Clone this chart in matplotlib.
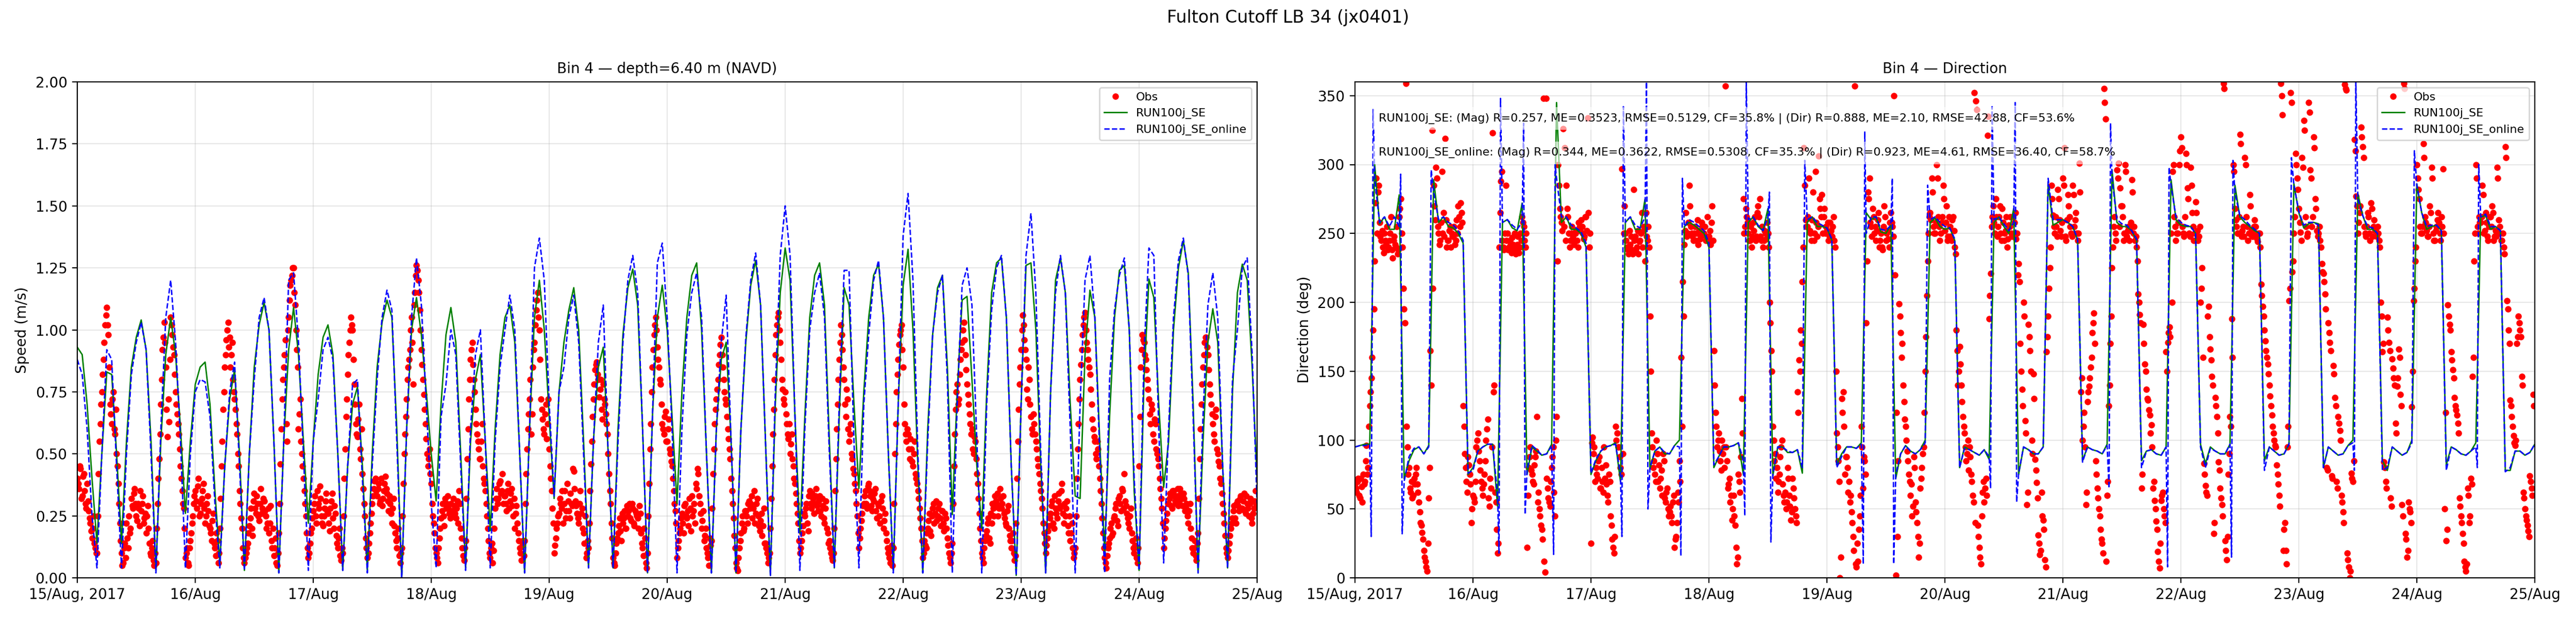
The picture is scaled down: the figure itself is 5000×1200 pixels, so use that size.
import numpy as np
import matplotlib.pyplot as plt

start = np.datetime64('2017-08-15T00:00')
end = np.datetime64('2017-08-25T00:00')

# hourly model speed (m/s), 15 Aug 00:00 .. 25 Aug 00:00
run_speed = [
    0.93, 0.90, 0.70, 0.40, 0.14, 0.50, 0.83, 0.82, 0.50, 0.14,
    0.55, 0.85, 0.97, 1.04, 0.92, 0.55, 0.03, 0.55, 0.90, 1.05,
    0.90, 0.60, 0.26, 0.55, 0.78, 0.85, 0.87, 0.70, 0.35, 0.06,
    0.45, 0.72, 0.84, 0.50, 0.03, 0.50, 0.85, 1.02, 1.11, 1.00,
    0.55, 0.02, 0.55, 0.92, 1.09, 0.90, 0.55, 0.22, 0.55, 0.82,
    0.97, 1.02, 0.90, 0.50, 0.03, 0.45, 0.70, 0.77, 0.45, 0.03,
    0.50, 0.85, 1.03, 1.12, 1.05, 0.60, 0.00, 0.60, 1.00, 1.13,
    0.98, 0.75, 0.50, 0.31, 0.70, 0.98, 1.09, 0.95, 0.50, 0.04,
    0.55, 0.80, 0.90, 0.55, 0.19, 0.60, 0.90, 1.05, 1.10, 0.95,
    0.50, 0.02, 0.60, 1.05, 1.20, 1.00, 0.65, 0.32, 0.75, 0.95,
    1.08, 1.17, 1.00, 0.55, 0.04, 0.55, 0.85, 0.93, 0.50, 0.04,
    0.60, 0.98, 1.17, 1.245, 1.10, 0.60, 0.02, 0.65, 1.05, 1.18,
    1.00, 0.65, 0.30, 0.75, 1.05, 1.22, 1.27, 1.00, 0.50, 0.02,
    0.60, 0.88, 0.95, 0.55, 0.02, 0.60, 0.95, 1.18, 1.28, 1.10,
    0.55, 0.01, 0.70, 1.15, 1.33, 1.20, 0.65, 0.18, 0.65, 1.05,
    1.22, 1.27, 1.10, 0.55, 0.04, 0.65, 1.17, 1.10, 0.70, 0.36,
    0.75, 1.05, 1.22, 1.265, 1.05, 0.50, 0.03, 0.70, 1.18, 1.325,
    1.00, 0.45, 0.02, 0.60, 0.98, 1.17, 1.22, 0.85, 0.255, 0.75,
    1.12, 1.135, 0.80, 0.45, 0.20, 0.75, 1.15, 1.27, 1.29, 1.05,
    0.45, 0.01, 0.70, 1.26, 1.27, 1.00, 0.45, 0.02, 0.75, 1.20,
    1.29, 1.15, 0.70, 0.33, 0.32, 0.90, 1.16, 1.05, 0.55, 0.10,
    0.65, 1.05, 1.24, 1.26, 1.00, 0.35, 0.03, 0.80, 1.205, 1.13,
    0.70, 0.365, 0.55, 1.00, 1.25, 1.36, 1.23, 0.70, 0.02, 0.55,
    0.95, 1.085, 0.95, 0.45, 0.04, 0.75, 1.15, 1.265, 1.20, 0.85, 0.40,
]
online_speed = [
    0.88, 0.82, 0.60, 0.25, 0.04, 0.50, 0.92, 0.88, 0.45, 0.04,
    0.50, 0.82, 0.95, 1.03, 0.92, 0.50, 0.02, 0.60, 1.05, 1.20,
    0.95, 0.55, 0.04, 0.50, 0.75, 0.80, 0.79, 0.65, 0.30, 0.04,
    0.45, 0.75, 0.87, 0.45, 0.03, 0.50, 0.80, 1.05, 1.13, 1.00,
    0.55, 0.02, 0.55, 1.20, 1.23, 0.95, 0.50, 0.03, 0.55, 0.72,
    0.92, 0.97, 0.88, 0.50, 0.03, 0.45, 0.78, 0.80, 0.40, 0.02,
    0.45, 0.80, 1.05, 1.16, 1.08, 0.55, 0.00, 0.60, 1.05, 1.29,
    1.10, 0.70, 0.30, 0.04, 0.65, 0.78, 1.00, 0.90, 0.45, 0.03,
    0.60, 0.90, 1.00, 0.55, 0.04, 0.55, 0.85, 1.00, 1.14, 1.00,
    0.50, 0.02, 0.60, 1.25, 1.37, 1.20, 0.70, 0.33, 0.75, 0.85,
    1.05, 1.14, 0.95, 0.50, 0.04, 0.55, 0.95, 1.10, 0.50, 0.04,
    0.55, 0.95, 1.20, 1.30, 1.15, 0.60, 0.02, 0.65, 1.27, 1.35,
    1.05, 0.60, 0.02, 0.60, 0.98, 1.15, 1.23, 1.05, 0.50, 0.02,
    0.60, 0.95, 1.14, 0.55, 0.02, 0.60, 0.97, 1.20, 1.31, 1.10,
    0.55, 0.01, 0.75, 1.30, 1.50, 1.30, 0.65, 0.03, 0.60, 1.00,
    1.15, 1.23, 1.05, 0.50, 0.04, 0.70, 1.24, 1.24, 0.55, 0.04,
    0.70, 0.98, 1.20, 1.28, 1.05, 0.50, 0.02, 0.70, 1.38, 1.55,
    1.20, 0.50, 0.02, 0.55, 0.98, 1.15, 1.22, 0.80, 0.02, 0.70,
    1.18, 1.25, 1.10, 0.55, 0.02, 0.70, 1.08, 1.25, 1.30, 1.05,
    0.45, 0.01, 0.70, 1.30, 1.47, 1.15, 0.50, 0.02, 0.75, 1.15,
    1.30, 1.15, 0.60, 0.02, 0.70, 1.20, 1.30, 1.05, 0.50, 0.02,
    0.80, 1.08, 1.22, 1.29, 1.00, 0.40, 0.03, 0.90, 1.33, 1.30,
    0.60, 0.06, 0.60, 1.05, 1.28, 1.37, 1.22, 0.65, 0.02, 0.65,
    1.10, 1.23, 1.05, 0.45, 0.04, 0.80, 1.00, 1.25, 1.29, 0.90, 0.30,
]

# hourly model direction (deg)
run_dir = [
    95, 96, 97, 97, 300, 257, 262, 253, 253, 278,
    72, 85, 93, 95, 90, 96, 289, 258, 262, 255,
    254, 250, 243, 75, 80, 92, 95, 97, 97, 52,
    258, 260, 254, 252, 272, 75, 95, 92, 89, 90,
    97, 345, 258, 262, 253, 253, 250, 240, 75, 85,
    92, 95, 96, 98, 70, 258, 262, 253, 253, 275,
    79, 92, 95, 90, 90, 96, 100, 255, 258, 256,
    253, 250, 240, 80, 88, 95, 95, 96, 98, 75,
    258, 262, 255, 252, 268, 74, 95, 95, 91, 91,
    93, 76, 258, 262, 255, 255, 254, 245, 82, 90,
    95, 95, 94, 98, 265, 260, 262, 251, 250, 256,
    72, 90, 96, 92, 90, 93, 100, 258, 261, 255,
    253, 254, 245, 80, 95, 93, 91, 89, 93, 86,
    258, 262, 255, 250, 268, 75, 95, 93, 90, 90,
    95, 286, 256, 258, 260, 258, 255, 245, 85, 95,
    93, 92, 90, 97, 296, 258, 255, 255, 252, 245,
    85, 92, 93, 90, 89, 95, 289, 260, 256, 255,
    255, 250, 97, 83, 95, 92, 90, 90, 97, 285,
    262, 258, 255, 252, 250, 85, 95, 92, 89, 90,
    97, 286, 265, 254, 257, 258, 257, 80, 95, 92,
    89, 90, 96, 100, 279, 263, 253, 253, 250, 85,
    78, 95, 92, 89, 91, 100, 286, 265, 253, 255,
    256, 252, 82, 95, 93, 90, 89, 92, 98, 262,
    263, 253, 255, 252, 78, 78, 92, 92, 89, 91, 97,
]
online_dir = [
    95, 96, 96, 97, 290, 258, 262, 255, 262, 255,
    70, 88, 94, 95, 90, 95, 280, 260, 262, 258,
    256, 252, 245, 76, 78, 92, 95, 97, 97, 60,
    258, 260, 256, 253, 258, 78, 96, 93, 89, 90,
    96, 290, 262, 262, 256, 254, 251, 243, 76, 86,
    92, 95, 96, 97, 75, 258, 262, 256, 254, 262,
    80, 92, 95, 91, 90, 96, 95, 255, 260, 258,
    255, 252, 243, 82, 88, 95, 95, 96, 98, 85,
    260, 262, 256, 252, 262, 75, 95, 95, 92, 91,
    93, 80, 260, 262, 258, 256, 254, 246, 80, 88,
    95, 95, 94, 97, 250, 262, 262, 253, 252, 256,
    75, 90, 96, 92, 90, 93, 98, 260, 262, 258,
    255, 254, 246, 80, 94, 93, 91, 89, 93, 88,
    260, 262, 257, 252, 258, 76, 95, 93, 90, 90,
    95, 290, 260, 260, 260, 258, 255, 246, 84, 95,
    93, 92, 90, 96, 290, 260, 257, 256, 252, 246,
    80, 92, 93, 90, 89, 95, 285, 262, 258, 256,
    255, 250, 95, 80, 94, 92, 90, 90, 97, 280,
    263, 260, 256, 253, 250, 78, 95, 92, 89, 90,
    97, 285, 266, 256, 258, 258, 256, 80, 95, 92,
    89, 90, 96, 98, 275, 263, 255, 254, 250, 78,
    80, 95, 92, 89, 91, 98, 285, 265, 255, 256,
    256, 252, 78, 95, 93, 90, 89, 92, 95, 262,
    264, 255, 255, 252, 77, 80, 92, 92, 89, 91, 97,
]
# short spikes of the online run at the flood/ebb switches (hours since start)
online_spike_hr = [3.3, 3.7, 9.3, 9.6, 15.5, 29.3, 29.6, 34.3, 34.6, 40.4, 40.7,
                   54.3, 54.6, 59.3, 59.6, 66.3, 66.6, 79.3, 79.6, 84.3, 84.6,
                   91.5, 103.4, 103.7, 109.3, 109.6, 116.5, 129.3, 129.6, 134.3,
                   134.6, 153.4, 153.7, 165.3, 165.6, 178.3, 178.6, 190.5, 203.3,
                   203.6, 215.5, 228.3, 228.6]
online_spike_dir = [30, 340, 293, 32, 296, 18, 348, 330, 46, 17, 300,
                    30, 342, 360, 50, 16, 290, 45, 360, 280, 26,
                    303, 10, 324, 290, 10, 285, 65, 342, 345,
                    55, 65, 330, 8, 298, 15, 303, 305, 78,
                    360, 310, 80, 300]

# observations: samples on the 20-min marks ...
obs_speed = [
    0.40, 0.36, 0.44, 0.33, 0.42, 0.30, 0.38, 0.27, 0.22, 0.16, 0.25, 0.12,
    0.10, 0.42, 0.62, 0.75, 0.88, 1.02, 1.09, 0.98, 0.70, 0.62, 0.75, 0.58, 0.50, 0.38, 0.22,
    0.10, 0.06, 0.14, 0.22, 0.12, 0.18, 0.32, 0.28, 0.36, 0.25, 0.30, 0.21, 0.27, 0.33, 0.24,
    0.18, 0.29, 0.14, 0.09, 0.15, 0.05,
    0.06, 0.30, 0.48, 0.70, 0.92, 1.03, 0.85, 0.57, 0.63, 1.05, 0.98, 0.90, 0.75, 0.66, 0.58,
    0.45, 0.35, 0.28,
    0.08, 0.12, 0.05, 0.15, 0.22, 0.30, 0.35, 0.28, 0.40, 0.26, 0.32, 0.38, 0.22, 0.30, 0.27,
    0.20, 0.15, 0.26, 0.12, 0.18, 0.06,
    0.20, 0.45, 0.68, 0.85, 0.96, 1.03, 0.97, 0.90, 0.80, 0.72, 0.62, 0.50, 0.35, 0.24, 0.12,
    0.06, 0.10, 0.14, 0.21, 0.28, 0.17, 0.34, 0.26, 0.30, 0.23, 0.36, 0.28, 0.31, 0.25, 0.22,
    0.18, 0.29, 0.12, 0.09, 0.16, 0.05,
    0.18, 0.46, 0.72, 0.85, 0.96, 0.55, 1.05, 1.18, 1.22, 1.25, 1.10, 0.92, 0.60, 0.72, 0.50,
    0.40, 0.30, 0.18,
    0.08, 0.14, 0.20, 0.27, 0.33, 0.22, 0.30, 0.37, 0.25, 0.21, 0.28, 0.34, 0.26, 0.19, 0.31,
    0.24, 0.29, 0.17, 0.12, 0.20, 0.07,
    0.10, 0.40, 0.65, 0.82, 0.95, 1.05, 1.00, 0.78, 0.62, 0.57, 0.70, 0.48, 0.42, 0.30, 0.16,
    0.08, 0.14, 0.22, 0.30, 0.36, 0.40, 0.33, 0.38, 0.31, 0.29, 0.35, 0.41, 0.34, 0.27, 0.30,
    0.22, 0.32, 0.18, 0.12, 0.20, 0.06,
    0.12, 0.38, 0.58, 0.72, 0.85, 0.92, 1.05, 0.78, 1.15, 1.26, 1.20, 1.08, 0.92, 0.80, 0.68,
    0.56, 0.45, 0.52, 0.38, 0.25, 0.18,
    0.10, 0.06, 0.16, 0.24, 0.30, 0.21, 0.28, 0.33, 0.26, 0.30, 0.25, 0.29, 0.24, 0.31, 0.35,
    0.20, 0.12, 0.07,
    0.15, 0.48, 0.72, 0.88, 0.95, 0.80, 0.68, 0.58, 0.52, 0.48, 0.62, 0.40, 0.35, 0.25, 0.15,
    0.08, 0.14, 0.11, 0.28, 0.36, 0.32, 0.39, 0.35, 0.30, 0.33, 0.27, 0.38, 0.31, 0.36, 0.25,
    0.20, 0.29, 0.18, 0.12, 0.07, 0.15,
    0.15, 0.42, 0.60, 0.72, 0.58, 0.85, 0.95, 1.08, 1.15, 1.00, 0.72, 0.64, 0.58, 0.70, 0.62,
    0.52, 0.40, 0.28,
    0.10, 0.16, 0.22, 0.26, 0.30, 0.35, 0.30, 0.24, 0.38, 0.27, 0.34, 0.29, 0.43, 0.31, 0.26,
    0.22, 0.35, 0.28, 0.18, 0.25, 0.10,
    0.12, 0.35, 0.55, 0.72, 0.84, 0.87, 0.80, 0.76, 0.68, 0.78, 0.70, 0.62, 0.50, 0.35, 0.22,
    0.08, 0.05, 0.14, 0.18, 0.24, 0.15, 0.22, 0.27, 0.20, 0.25, 0.30, 0.23, 0.28, 0.21, 0.26,
    0.24, 0.29, 0.18, 0.12, 0.20, 0.06,
    0.10, 0.38, 0.62, 0.85, 0.98, 1.05, 0.93, 0.85, 0.78, 0.62, 0.58, 0.67, 0.55, 0.64, 0.50,
    0.45, 0.35, 0.27,
    0.08, 0.15, 0.20, 0.26, 0.18, 0.30, 0.24, 0.21, 0.28, 0.33, 0.27, 0.22, 0.36, 0.42, 0.30,
    0.20, 0.27, 0.17, 0.12, 0.08, 0.16,
    0.15, 0.42, 0.62, 0.72, 0.80, 0.90, 0.97, 0.85, 0.75, 0.70, 0.60, 0.52, 0.40, 0.30, 0.17,
    0.06, 0.03, 0.12, 0.18, 0.25, 0.20, 0.27, 0.22, 0.31, 0.30, 0.24, 0.35, 0.26, 0.32, 0.21,
    0.23, 0.17, 0.28, 0.14, 0.10, 0.08,
    0.20, 0.45, 0.68, 0.90, 1.02, 1.07, 0.95, 0.80, 0.72, 0.75, 0.62, 0.56, 0.50, 0.58, 0.45,
    0.38, 0.30, 0.22,
    0.10, 0.15, 0.21, 0.25, 0.30, 0.19, 0.35, 0.28, 0.32, 0.30, 0.36, 0.27, 0.33, 0.25, 0.29,
    0.22, 0.31, 0.18, 0.15, 0.10, 0.07,
    0.20, 0.48, 0.70, 0.88, 1.02, 0.92, 0.80, 0.65, 0.72, 0.55, 0.62, 0.48, 0.42, 0.35, 0.25,
    0.12, 0.20, 0.26, 0.30, 0.35, 0.28, 0.38, 0.33, 0.27, 0.31, 0.36, 0.24, 0.29, 0.22, 0.33,
    0.20, 0.26, 0.15, 0.10, 0.06, 0.13,
    0.12, 0.50, 0.75, 0.88, 0.98, 1.02, 0.85, 0.62, 0.55, 0.58, 0.48, 0.52, 0.45, 0.55, 0.40,
    0.35, 0.28, 0.20,
    0.08, 0.15, 0.12, 0.20, 0.26, 0.17, 0.28, 0.22, 0.31, 0.25, 0.30, 0.21, 0.27, 0.19, 0.24,
    0.16, 0.10, 0.06,
    0.14, 0.45, 0.68, 0.78, 0.72, 0.88, 0.95, 1.03, 0.90, 0.78, 0.70, 0.62, 0.60, 0.50, 0.55,
    0.42, 0.32, 0.20,
    0.10, 0.06, 0.15, 0.19, 0.24, 0.14, 0.22, 0.28, 0.33, 0.30, 0.25, 0.36, 0.28, 0.33, 0.24,
    0.21, 0.29, 0.17, 0.12, 0.18, 0.07,
    0.22, 0.55, 0.78, 0.92, 1.06, 0.96, 0.88, 0.72, 0.80, 0.65, 0.58, 0.62, 0.55, 0.48, 0.42,
    0.35, 0.28, 0.18,
    0.10, 0.16, 0.21, 0.26, 0.31, 0.20, 0.28, 0.24, 0.34, 0.29, 0.38, 0.22, 0.25, 0.31, 0.18,
    0.15, 0.22, 0.08,
    0.12, 0.40, 0.62, 0.80, 0.92, 1.02, 1.07, 0.95, 0.88, 0.82, 0.70, 0.60, 0.55, 0.48, 0.52,
    0.40, 0.30, 0.18,
    0.08, 0.04, 0.12, 0.16, 0.22, 0.18, 0.25, 0.30, 0.21, 0.33, 0.27, 0.35, 0.42, 0.29, 0.24,
    0.20, 0.28, 0.15, 0.10, 0.16, 0.06,
    0.45, 0.85, 0.98, 0.95, 0.88, 0.80, 0.72, 0.62, 0.68, 0.55, 0.62, 0.50, 0.45, 0.36, 0.28,
    0.12, 0.20, 0.26, 0.30, 0.34, 0.28, 0.35, 0.31, 0.33, 0.29, 0.36, 0.32, 0.34, 0.27, 0.30,
    0.22, 0.30, 0.16, 0.10, 0.15, 0.07,
    0.18, 0.48, 0.70, 0.85, 0.95, 0.97, 0.90, 0.78, 0.70, 0.62, 0.55, 0.68, 0.50, 0.45, 0.38,
    0.30, 0.22, 0.12,
    0.08, 0.14, 0.20, 0.24, 0.29, 0.22, 0.31, 0.27, 0.33, 0.28, 0.34, 0.26, 0.30, 0.25, 0.32,
    0.22, 0.28, 0.35,
]
# ... and the samples 10 min after each of them
obs_speed_b = [
    0.38, 0.45, 0.32, 0.41, 0.35, 0.28, 0.31, 0.24, 0.19, 0.20, 0.14, 0.10,
    0.25, 0.55, 0.70, 0.82, 0.95, 1.06, 1.02, 0.85, 0.66, 0.72, 0.60, 0.68, 0.45, 0.30, 0.15,
    0.05, 0.12, 0.08, 0.16, 0.25, 0.20, 0.29, 0.34, 0.30, 0.23, 0.28, 0.35, 0.30, 0.22, 0.26,
    0.25, 0.20, 0.10, 0.12, 0.07, 0.10,
    0.20, 0.40, 0.58, 0.80, 0.97, 0.95, 0.68, 0.72, 0.88, 1.02, 0.93, 0.82, 0.70, 0.62, 0.52,
    0.40, 0.30, 0.20,
    0.10, 0.06, 0.12, 0.18, 0.25, 0.33, 0.31, 0.37, 0.25, 0.30, 0.35, 0.28, 0.25, 0.33, 0.21,
    0.18, 0.23, 0.14, 0.09, 0.15, 0.10,
    0.32, 0.55, 0.75, 0.90, 1.00, 0.93, 0.85, 0.95, 0.75, 0.68, 0.58, 0.45, 0.30, 0.20, 0.08,
    0.08, 0.12, 0.18, 0.24, 0.20, 0.31, 0.28, 0.33, 0.25, 0.30, 0.26, 0.32, 0.27, 0.20, 0.28,
    0.22, 0.15, 0.20, 0.12, 0.06, 0.10,
    0.30, 0.60, 0.80, 0.90, 0.62, 1.00, 1.12, 1.20, 1.25, 1.15, 1.00, 0.85, 0.66, 0.55, 0.45,
    0.35, 0.25, 0.12,
    0.10, 0.18, 0.24, 0.30, 0.25, 0.35, 0.28, 0.32, 0.22, 0.25, 0.31, 0.27, 0.22, 0.28, 0.34,
    0.20, 0.26, 0.14, 0.16, 0.09, 0.12,
    0.25, 0.52, 0.72, 0.90, 1.00, 1.02, 0.88, 0.70, 0.58, 0.64, 0.52, 0.60, 0.36, 0.25, 0.12,
    0.10, 0.18, 0.26, 0.33, 0.39, 0.35, 0.36, 0.30, 0.40, 0.32, 0.38, 0.36, 0.31, 0.33, 0.26,
    0.28, 0.21, 0.15, 0.16, 0.09, 0.10,
    0.25, 0.50, 0.65, 0.80, 0.88, 1.00, 0.95, 1.10, 1.22, 1.24, 1.15, 1.00, 0.86, 0.74, 0.62,
    0.50, 0.48, 0.42, 0.30, 0.22, 0.12,
    0.08, 0.12, 0.20, 0.27, 0.25, 0.32, 0.30, 0.28, 0.24, 0.27, 0.32, 0.26, 0.28, 0.22, 0.30,
    0.16, 0.09, 0.12,
    0.32, 0.60, 0.80, 0.92, 0.86, 0.75, 0.62, 0.55, 0.48, 0.55, 0.45, 0.38, 0.30, 0.20, 0.10,
    0.12, 0.06, 0.20, 0.32, 0.30, 0.38, 0.34, 0.42, 0.33, 0.30, 0.35, 0.28, 0.34, 0.29, 0.32,
    0.26, 0.22, 0.15, 0.10, 0.13, 0.09,
    0.30, 0.52, 0.66, 0.80, 0.66, 0.92, 1.02, 1.12, 1.05, 0.88, 0.68, 0.60, 0.66, 0.56, 0.72,
    0.45, 0.35, 0.22,
    0.13, 0.20, 0.25, 0.32, 0.28, 0.22, 0.35, 0.27, 0.31, 0.24, 0.30, 0.44, 0.36, 0.29, 0.24,
    0.30, 0.26, 0.20, 0.14, 0.08, 0.15,
    0.22, 0.46, 0.65, 0.78, 0.86, 0.82, 0.73, 0.80, 0.64, 0.72, 0.66, 0.58, 0.42, 0.30, 0.16,
    0.06, 0.10, 0.16, 0.21, 0.19, 0.26, 0.24, 0.20, 0.29, 0.27, 0.24, 0.30, 0.22, 0.27, 0.25,
    0.20, 0.26, 0.14, 0.09, 0.16, 0.04,
    0.25, 0.52, 0.75, 0.92, 1.02, 1.00, 0.88, 0.80, 0.70, 0.60, 0.65, 0.55, 0.60, 0.52, 0.47,
    0.40, 0.30, 0.22,
    0.12, 0.18, 0.24, 0.22, 0.29, 0.25, 0.27, 0.32, 0.19, 0.25, 0.30, 0.38, 0.44, 0.33, 0.26,
    0.23, 0.15, 0.20, 0.10, 0.05, 0.13,
    0.28, 0.52, 0.68, 0.76, 0.86, 0.94, 0.90, 0.80, 0.72, 0.65, 0.56, 0.48, 0.35, 0.24, 0.12,
    0.04, 0.08, 0.15, 0.22, 0.19, 0.27, 0.25, 0.30, 0.28, 0.33, 0.28, 0.22, 0.30, 0.25, 0.19,
    0.26, 0.21, 0.14, 0.12, 0.06, 0.10,
    0.32, 0.58, 0.80, 0.98, 1.05, 1.00, 0.88, 0.76, 0.70, 0.66, 0.58, 0.62, 0.54, 0.48, 0.40,
    0.34, 0.26, 0.15,
    0.12, 0.18, 0.26, 0.28, 0.22, 0.33, 0.30, 0.34, 0.26, 0.33, 0.29, 0.31, 0.27, 0.32, 0.24,
    0.28, 0.20, 0.14, 0.12, 0.08, 0.10,
    0.35, 0.60, 0.80, 0.95, 0.98, 0.85, 0.70, 0.76, 0.60, 0.58, 0.50, 0.44, 0.38, 0.30, 0.18,
    0.16, 0.23, 0.29, 0.33, 0.30, 0.37, 0.35, 0.29, 0.32, 0.34, 0.27, 0.30, 0.25, 0.31, 0.28,
    0.23, 0.18, 0.12, 0.08, 0.11, 0.05,
    0.30, 0.62, 0.82, 0.94, 1.00, 0.92, 0.70, 0.58, 0.60, 0.52, 0.56, 0.47, 0.50, 0.42, 0.38,
    0.32, 0.24, 0.15,
    0.10, 0.13, 0.18, 0.23, 0.19, 0.25, 0.30, 0.26, 0.23, 0.28, 0.24, 0.27, 0.22, 0.26, 0.20,
    0.13, 0.08, 0.10,
    0.30, 0.58, 0.75, 0.70, 0.82, 0.92, 1.00, 0.96, 0.84, 0.74, 0.66, 0.58, 0.52, 0.57, 0.48,
    0.38, 0.26, 0.15,
    0.08, 0.12, 0.17, 0.22, 0.16, 0.26, 0.30, 0.25, 0.31, 0.34, 0.28, 0.32, 0.30, 0.26, 0.22,
    0.27, 0.20, 0.15, 0.15, 0.10, 0.09,
    0.40, 0.68, 0.85, 1.00, 1.02, 0.92, 0.76, 0.85, 0.70, 0.60, 0.66, 0.58, 0.52, 0.45, 0.38,
    0.32, 0.22, 0.14,
    0.13, 0.19, 0.24, 0.29, 0.22, 0.33, 0.26, 0.31, 0.28, 0.35, 0.26, 0.30, 0.28, 0.21, 0.25,
    0.18, 0.12, 0.10,
    0.25, 0.52, 0.72, 0.86, 0.98, 1.05, 1.00, 0.92, 0.85, 0.76, 0.64, 0.57, 0.50, 0.55, 0.45,
    0.35, 0.24, 0.12,
    0.06, 0.09, 0.14, 0.20, 0.17, 0.24, 0.28, 0.23, 0.32, 0.30, 0.36, 0.28, 0.31, 0.26, 0.22,
    0.25, 0.18, 0.12, 0.13, 0.08, 0.12,
    0.65, 0.92, 0.96, 0.90, 0.84, 0.76, 0.66, 0.70, 0.58, 0.64, 0.52, 0.48, 0.40, 0.32, 0.22,
    0.16, 0.23, 0.30, 0.32, 0.29, 0.35, 0.33, 0.30, 0.36, 0.31, 0.34, 0.29, 0.32, 0.28, 0.25,
    0.27, 0.20, 0.12, 0.12, 0.09, 0.14,
    0.32, 0.60, 0.78, 0.90, 0.97, 0.93, 0.84, 0.74, 0.66, 0.58, 0.65, 0.52, 0.47, 0.40, 0.34,
    0.26, 0.17, 0.10,
    0.11, 0.17, 0.22, 0.27, 0.24, 0.30, 0.29, 0.32, 0.28, 0.31, 0.27, 0.33, 0.28, 0.30, 0.24,
    0.26, 0.31, 0.30,
]
obs_dir = [
    68, 62, 72, 58, 66, 75, 70, 96, 80, 125, 145, 180,
    230, 290, 280, 258, 245, 240, 250, 242, 238, 245, 262, 232, 248, 240, 235, 262, 275, 240,
    195, 359, 95, 80, 62, 58, 72, 75, 68, 55, 40, 33, 20, 12, 5, 58, 165, 325,
    285, 260, 290, 250, 245, 295, 265, 319, 240, 245, 255, 250, 248, 242, 260, 270, 255, 265,
    125, 90, 70, 88, 75, 40, 60, 55, 95, 105, 85, 70, 60, 75, 100, 115, 52, 65, 323, 140, 55,
    18, 240, 288, 245, 238, 285, 250, 240, 242, 247, 238, 235, 242, 236, 250, 262, 255, 240,
    22, 80, 95, 75, 68, 88, 117, 62, 45, 35, 348, 4, 72, 58, 52, 80, 95, 45,
    117, 300, 268, 258, 326, 312, 285, 262, 240, 250, 248, 245, 252, 240, 255, 260, 250, 248,
    262, 334, 240,
    25, 102, 95, 80, 72, 88, 65, 70, 95, 82, 60, 75, 45, 28, 18, 110, 105, 95,
    80, 297, 250, 250, 240, 235, 242, 238, 282, 248, 240, 235, 245, 265, 252, 230, 248, 255,
    190, 105, 80, 75, 100, 70, 65, 78, 90, 58, 62, 50, 48, 45, 55, 22, 30, 62, 85, 160, 215,
    242, 265, 250, 285, 255, 248, 250, 245, 260, 252, 248, 255, 250, 245, 262, 248, 242, 270,
    165, 120, 95, 105, 85, 100, 95, 357, 85, 68, 55, 42, 60, 38, 10, 75, 62, 130,
    275, 255, 262, 250, 245, 240, 258, 262, 248, 270, 275, 245, 240, 252, 246, 250, 200, 165,
    110, 85, 72, 62, 75, 95, 68, 55, 50, 80, 60, 42, 72, 58, 45, 135, 158, 180,
    215, 312, 260, 255, 290, 250, 260, 245, 295, 248, 306, 268, 278, 262, 250, 252, 245, 258,
    248, 262, 240,
    105, 85, 0, 130, 135, 75, 88, 62, 55, 48, 30, 357, 8, 12, 45, 110, 65, 85,
    185, 280, 290, 255, 268, 250, 245, 260, 240, 250, 238, 270, 245, 252, 240, 265, 255, 350,
    2, 30, 199, 178, 170, 128, 110, 92, 75, 60, 45, 88, 55, 40, 15, 65, 80, 95,
    150, 205, 250, 265, 290, 255, 250, 300, 262, 245, 258, 285, 252, 270, 248, 255, 245, 262,
    240, 180, 140,
    168, 140, 117, 105, 85, 100, 95, 75, 60, 352, 346, 38, 22, 10, 62, 55, 72, 321,
    188, 221, 262, 258, 275, 248, 262, 250, 268, 245, 252, 240, 256, 262, 248, 250, 265, 250,
    228, 170, 137, 200, 114, 53, 184, 165, 100, 148, 86, 69, 31, 17, 62, 42, 13, 164,
    190, 225, 285, 263, 250, 255, 282, 260, 248, 290, 312, 245, 278, 262, 250, 285, 255, 265,
    245, 301, 135,
    100, 120, 53, 128, 139, 153, 178, 192, 85, 65, 50, 35, 25, 355, 333, 60, 125, 170,
    225, 255, 250, 296, 301, 283, 270, 245, 300, 248, 255, 252, 289, 250, 245,
    240, 206, 191, 65, 184, 155, 137, 129, 118, 111, 65, 56, 41, 19, 7, 56, 62, 45,
    164, 171, 182,
    250, 295, 262, 245, 250, 300, 320, 255, 248, 308, 283, 250, 298, 265, 245, 273, 252, 248,
    200, 225, 83, 67, 60, 197, 166, 146, 32, 131, 117, 84, 65, 53, 359, 27, 13, 75,
    117, 188, 300, 268, 255, 250, 322, 248, 255, 305, 262, 245, 278, 252, 248, 260, 250, 244,
    250, 213, 197, 180, 165, 155, 140, 125, 110, 100, 95, 75, 60, 359, 336, 35, 20, 95,
    201, 352, 222,
    250, 308, 290, 268, 251, 305, 332, 262, 248, 345, 296, 255, 320, 275, 252, 250, 245, 228,
    221, 206, 80, 185, 171, 74, 154, 131, 70, 117, 107, 60, 48, 358, 354, 13, 0, 76,
    70, 318, 277, 250, 265, 327, 313, 255, 248, 265, 250, 272, 248, 260, 252, 255, 245, 200,
    164, 84, 70, 189, 171, 58, 159, 145, 112, 139, 166, 133, 53, 359, 32, 15, 55, 48,
    124, 201, 230,
    300, 282, 255, 250, 315, 262, 252, 248, 270, 298, 250, 245, 255, 265, 250,
    262, 297, 50, 27, 198, 184, 164, 151, 131, 122, 112, 58, 45, 32, 12, 5, 65, 40,
    72, 146, 230,
    300, 255, 262, 258, 285, 250, 265, 248, 255, 262, 270, 245, 252, 298, 260, 250, 245, 240,
    313, 201, 180, 129, 117, 103, 96, 170, 190, 180, 146, 62, 50, 42, 34, 74, 65, 133,
]
obs_dir_b = [
    65, 70, 60, 72, 55, 68, 85, 75, 110, 135, 160, 195,
    272, 250, 285, 248, 252, 236, 245, 255, 240, 250, 238, 245, 242, 255, 238,
    268, 250, 210,
    185, 110, 75, 65, 70, 60, 68, 80, 62, 48, 38, 28, 15, 8, 25, 80, 140, 210,
    270, 298, 255, 242, 258, 250, 248, 260, 245, 252, 240, 248, 255, 245, 250, 262, 272, 258,
    110, 80, 62, 82, 68, 50, 58, 70, 100, 92, 78, 65, 68, 85, 108, 58, 72, 95, 135, 62, 35,
    25, 265, 295, 240, 250, 245, 238, 245, 236, 242, 250, 238, 248, 240, 245, 258, 245, 250,
    60, 88, 78, 70, 82, 92, 55, 50, 38, 28, 12, 348, 65, 55, 70, 88, 62, 100,
    230, 285, 262, 252, 255, 245, 268, 250, 245, 255, 242, 250, 245, 258, 252, 255, 246, 262,
    252, 265, 250,
    98, 90, 70, 75, 85, 65, 80, 62, 72, 68, 55, 70, 38, 22, 30, 100, 95, 88, 75, 90, 270,
    245, 238, 252, 248, 235, 245, 238, 252, 244, 250, 240, 255, 265, 245, 240,
    150, 95, 85, 70, 90, 82, 72, 60, 85, 55, 65, 45, 52, 40, 60, 28, 40, 55, 70, 110, 190,
    252, 248, 258, 270, 250, 245, 255, 250, 242, 246, 258, 250, 255, 248, 245, 252, 258, 245,
    140, 110, 100, 92, 78, 90, 80, 95, 65, 72, 60, 50, 45, 22, 15, 70, 88, 105,
    250, 268, 258, 245, 255, 248, 252, 245, 265, 262, 248, 255, 245, 250, 258, 240, 185, 150,
    100, 90, 80, 70, 88, 100, 60, 62, 55, 72, 52, 48, 65, 50, 40, 120, 150, 170,
    240, 285, 255, 262, 252, 245, 280, 250, 258, 255, 275, 262, 250, 268, 255, 258, 248, 252,
    255, 245, 150,
    95, 70, 15, 120, 110, 88, 80, 70, 60, 40, 20, 10, 25, 35, 60, 95, 88, 75,
    230, 275, 258, 248, 262, 255, 252, 265, 245, 240, 255, 262, 250, 246, 258, 258, 248, 220,
    120, 85, 190, 160, 140, 115, 100, 85, 70, 68, 52, 80, 48, 30, 25, 72, 90, 120,
    175, 230, 262,
    260, 280, 250, 258, 290, 255, 250, 262, 275, 258, 245, 262, 248, 260, 252, 235, 165, 150,
    155, 128, 110, 95, 90, 78, 88, 70, 55, 40, 340, 30, 15, 45, 70, 65, 60, 335,
    205, 255, 270, 250, 262, 255, 270, 245, 258, 250, 262, 246, 255, 250, 262, 258, 246, 220,
    215, 150, 125, 190, 105, 62, 175, 150, 90, 130, 78, 58, 25, 20, 45, 35, 8, 175,
    210, 240, 275,
    255, 262, 248, 275, 252, 258, 285, 248, 260, 270, 255, 248, 278, 260, 250, 250, 280, 145,
    110, 95, 62, 135, 145, 160, 185, 170, 75, 58, 45, 28, 18, 345, 12, 70, 140, 190,
    240, 262, 245, 290, 255, 270, 262, 250, 295, 252, 245, 258, 280, 255, 248, 230, 200, 185,
    75, 170, 150, 130, 122, 105, 95, 70, 50, 35, 12, 25, 60, 50, 40, 150, 178, 175,
    200, 300, 255,
    250, 258, 310, 312, 250, 262, 300, 275, 248, 285, 255, 250, 265, 245, 255, 210, 160, 75,
    62, 190, 175, 158, 140, 40, 125, 105, 78, 58, 45, 355, 20, 30, 90, 110, 160, 295,
    260, 250, 262, 315, 252, 248, 300, 255, 250, 270, 248, 255, 255, 246, 250, 240, 205, 190,
    172, 160, 148, 132, 118, 105, 96, 82, 68, 52, 350, 20, 40, 10, 110, 210, 345, 230,
    262, 300, 282, 258, 245, 298, 325, 255, 250, 338, 290, 262, 312, 268, 248, 255, 240, 222,
    215, 195, 78, 178, 165, 72, 148, 125, 65, 112, 100, 55, 40, 355, 18, 8, 5, 72,
    85, 310, 270, 258, 270, 320, 305, 250, 255, 262, 245, 268, 255, 252, 248, 250, 240, 190,
    170, 80, 65, 180, 165, 52, 152, 140, 105, 145, 160, 125, 45, 355, 28, 20, 50, 40,
    150, 210, 240,
    290, 275, 250, 255, 305, 258, 248, 255, 265, 290, 245, 252, 260, 258, 245, 255, 250, 120,
    35, 190, 180, 158, 145, 125, 118, 105, 52, 40, 25, 8, 10, 60, 45, 68, 160, 250,
    290, 250, 258, 262, 278, 252, 258, 245, 262, 255, 265, 248, 248, 290, 255, 245, 250, 235,
    305, 195, 170, 125, 110, 98, 100, 175, 185, 175, 140, 58, 45, 38, 30, 70, 60, 125,
]

day_labels = ['15/Aug, 2017', '16/Aug', '17/Aug', '18/Aug', '19/Aug', '20/Aug',
              '21/Aug', '22/Aug', '23/Aug', '24/Aug', '25/Aug']

stats_run = ('RUN100j_SE: (Mag) R=0.257, ME=0.3523, RMSE=0.5129, CF=35.8% | '
             '(Dir) R=0.888, ME=2.10, RMSE=42.88, CF=53.6%')
stats_online = ('RUN100j_SE_online: (Mag) R=0.344, ME=0.3622, RMSE=0.5308, CF=35.3% | '
                '(Dir) R=0.923, ME=4.61, RMSE=36.40, CF=58.7%')


def minutes(m):
    return start + np.asarray(np.round(m), dtype=int).astype('timedelta64[m]')


def merge(vals_a, vals_b, step, offset):
    # interleave two sample sets into one time-ordered series
    m = np.concatenate([np.arange(len(vals_a)) * step, np.arange(len(vals_b)) * step + offset])
    v = np.concatenate([np.array(vals_a, float), np.array(vals_b, float)])
    order = np.argsort(m, kind='stable')
    return minutes(m[order]), v[order]


t_run = minutes(np.arange(len(run_speed)) * 60)
t_online = minutes(np.arange(len(online_speed)) * 60)
t_run_dir = minutes(np.arange(len(run_dir)) * 60)

# online direction: hourly values plus the short spikes
m_on = np.concatenate([np.arange(len(online_dir)) * 60.0, np.array(online_spike_hr) * 60.0])
v_on = np.concatenate([np.array(online_dir, float), np.array(online_spike_dir, float)])
order = np.argsort(m_on, kind='stable')
t_online_dir = minutes(m_on[order])
v_online_dir = v_on[order]

t_obs_spd, v_obs_spd = merge(obs_speed, obs_speed_b, 20, 10)
t_obs_dir, v_obs_dir = merge(obs_dir, obs_dir_b, 20, 10)

fig, (ax1, ax2) = plt.subplots(1, 2, figsize=(25, 6), dpi=200)
plt.subplots_adjust(left=0.03, right=0.984, bottom=0.065, top=0.8675, wspace=0.083)

ax1.plot(t_obs_spd, v_obs_spd, 'o', color='red', ms=3.5, label='Obs')
ax1.plot(t_run, run_speed, '-', color='green', lw=1.0, label='RUN100j_SE')
ax1.plot(t_online, online_speed, '--', color='blue', lw=1.0, label='RUN100j_SE_online')
ax1.set_ylim(0, 2)
ax1.set_ylabel('Speed (m/s)')
ax1.set_title('Bin 4 \u2014 depth=6.40 m (NAVD)', fontsize=10)

ax2.plot(t_obs_dir, v_obs_dir, 'o', color='red', ms=3.5, label='Obs')
ax2.plot(t_run_dir, run_dir, '-', color='green', lw=1.0, label='RUN100j_SE')
ax2.plot(t_online_dir, v_online_dir, '--', color='blue', lw=1.0, label='RUN100j_SE_online')
ax2.set_ylim(0, 360)
ax2.set_ylabel('Direction (deg)')
ax2.set_title('Bin 4 \u2014 Direction', fontsize=10)
ax2.text(0.02, 0.926, stats_run, transform=ax2.transAxes, fontsize=8, va='center',
         bbox=dict(facecolor='white', alpha=0.6, edgecolor='none'))
ax2.text(0.02, 0.857, stats_online, transform=ax2.transAxes, fontsize=8, va='center',
         bbox=dict(facecolor='white', alpha=0.6, edgecolor='none'))

ticks = start + np.arange(len(day_labels)) * np.timedelta64(1, 'D')
for ax in (ax1, ax2):
    ax.set_xlim(start, end)
    ax.set_xticks(ticks)
    ax.set_xticklabels(day_labels)
    ax.grid(True, alpha=0.3)
    ax.legend(loc='upper right', fontsize=8)

fig.suptitle('Fulton Cutoff LB 34 (jx0401)', fontsize=12, y=0.985)
fig.savefig('out.png', dpi=200)
